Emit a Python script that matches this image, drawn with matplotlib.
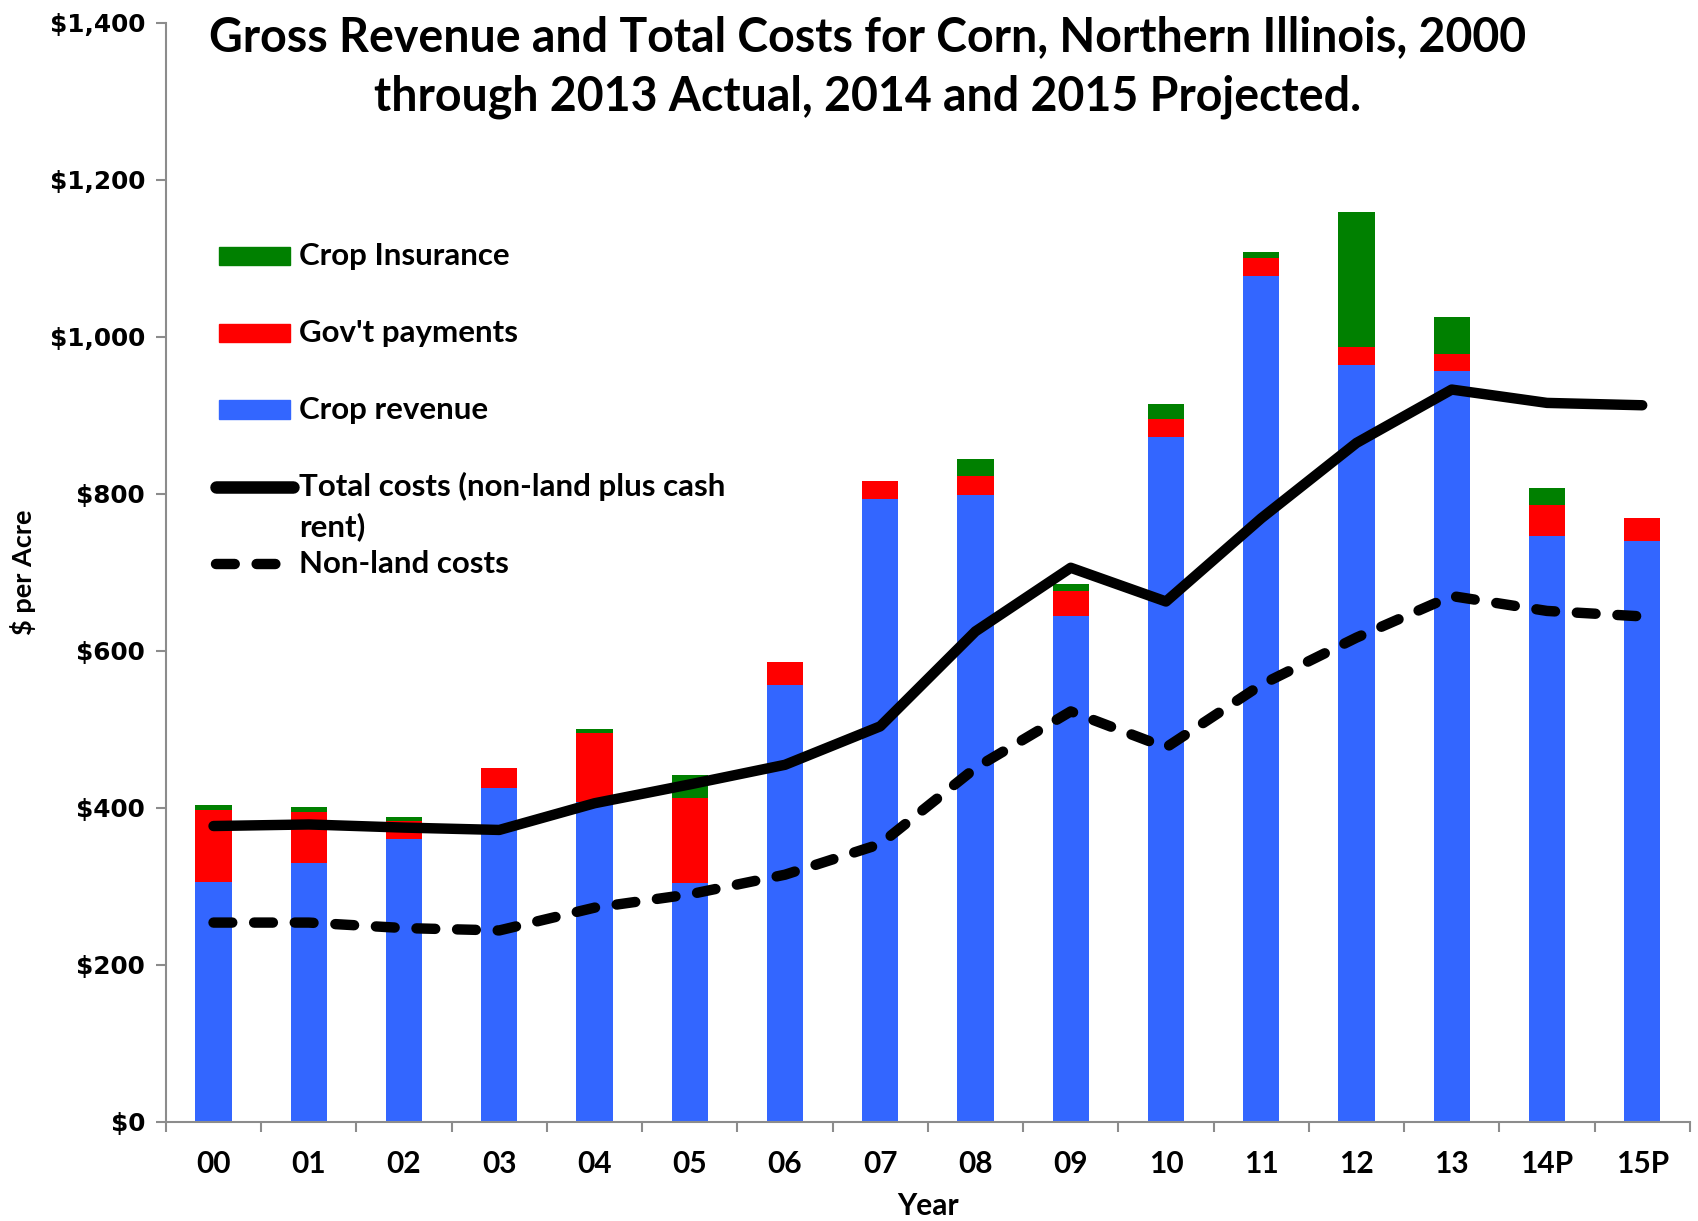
import matplotlib.pyplot as plt
from matplotlib.patches import Rectangle
from matplotlib.lines import Line2D
from matplotlib.ticker import FuncFormatter, MultipleLocator
import numpy as np

years = ["00", "01", "02", "03", "04", "05", "06", "07", "08", "09",
         "10", "11", "12", "13", "14P", "15P"]
crop_revenue = [306, 330, 361, 425, 408, 305, 557, 793, 799, 645,
                873, 1078, 964, 957, 746, 740]
govt_payments = [91, 65, 22, 26, 87, 108, 29, 24, 24, 31,
                 23, 23, 23, 21, 40, 30]
crop_insurance = [7, 6, 5, 0, 6, 29, 0, 0, 22, 9,
                  19, 7, 172, 48, 21, 0]
total_costs = [377, 379, 375, 372, 406, 430, 455, 504, 625, 706,
               663, 769, 865, 933, 916, 913]
nonland_costs = [254, 254, 247, 244, 273, 290, 315, 354, 451, 523,
                 477, 557, 617, 670, 651, 644]

BLUE = "#3366FF"
RED = "#FF0000"
GREEN = "#008000"
SPINE = "#8c8c8c"
FONT = "Lato"

fig = plt.figure(figsize=(16.98, 12.21), dpi=100)
ax = fig.add_axes([0.0977, 0.0811, 0.8975, 0.9001])

x = np.arange(len(years))
w = 0.38
crop = np.array(crop_revenue)
gov = np.array(govt_payments)
ins = np.array(crop_insurance)
ax.bar(x, crop, width=w, color=BLUE, zorder=2)
ax.bar(x, gov, width=w, bottom=crop, color=RED, zorder=2)
ax.bar(x, ins, width=w, bottom=crop + gov, color=GREEN, zorder=2)

ax.plot(x, total_costs, color="black", lw=7.5, solid_capstyle="round",
        solid_joinstyle="round", zorder=3)
ax.plot(x, nonland_costs, color="black", lw=7.5, dashes=(1.8, 2.1),
        dash_capstyle="round", zorder=3)

ax.set_xlim(-0.5, len(years) - 0.5)
ax.set_ylim(0, 1400)
ax.yaxis.set_major_locator(MultipleLocator(200))
ax.yaxis.set_major_formatter(FuncFormatter(lambda v, _: f"${v:,.0f}"))
ax.set_xticks(x)
ax.set_xticklabels(years, fontsize=21.5, fontweight="bold", family=FONT)
ax.set_xticks(np.arange(-0.5, len(years)), minor=True)
ax.tick_params(axis="x", which="major", length=0, pad=20)
ax.tick_params(axis="x", which="minor", length=7, width=1.5, color=SPINE, direction="out")
ax.tick_params(axis="y", length=7, width=1.5, color=SPINE, pad=8)
for lbl in ax.get_yticklabels():
    lbl.set_fontsize(17.8)
    lbl.set_fontweight("bold")
    lbl.set_family("DejaVu Sans")

for s in ["top", "right"]:
    ax.spines[s].set_visible(False)
for s in ["left", "bottom"]:
    ax.spines[s].set_color(SPINE)
    ax.spines[s].set_linewidth(1.5)

ax.set_xlabel("Year", fontsize=21.5, fontweight="bold", family=FONT, labelpad=10)
ax.set_ylabel("$ per Acre", fontsize=19.5, fontweight="bold", family=FONT, labelpad=10)

fig.text(0.511, 0.988, "Gross Revenue and Total Costs for Corn, Northern Illinois, 2000\n"
         "through 2013 Actual, 2014 and 2015 Projected.",
         ha="center", va="top", fontsize=33.5, fontweight="bold", family=FONT,
         linespacing=1.45)

# legend drawn by hand to follow the original layout
leg_font = dict(fontsize=22.5, fontweight="bold", family=FONT, va="center",
                transform=ax.transAxes)
x0, x1, xt = 0.0348, 0.0814, 0.0873
for yy, col, label in [(0.788, GREEN, "Crop Insurance"),
                       (0.718, RED, "Gov't payments"),
                       (0.648, BLUE, "Crop revenue")]:
    ax.add_patch(Rectangle((x0, yy - 0.0085), x1 - x0, 0.017, color=col,
                           transform=ax.transAxes, clip_on=False))
    ax.text(xt, yy, label, **leg_font)
ax.add_line(Line2D([x0 - 0.002, x1 + 0.002], [0.578, 0.578], color="black", lw=9,
                   solid_capstyle="round", transform=ax.transAxes))
ax.text(xt, 0.578, "Total costs (non-land plus cash", **leg_font)
ax.text(xt, 0.542, "rent)", **leg_font)
ax.add_line(Line2D([x0 - 0.002, x1 + 0.002], [0.508, 0.508], color="black", lw=7.5,
                   dashes=(1.8, 2.1), dash_capstyle="round", transform=ax.transAxes))
ax.text(xt, 0.508, "Non-land costs", **leg_font)

fig.savefig("out.png", dpi=100)
